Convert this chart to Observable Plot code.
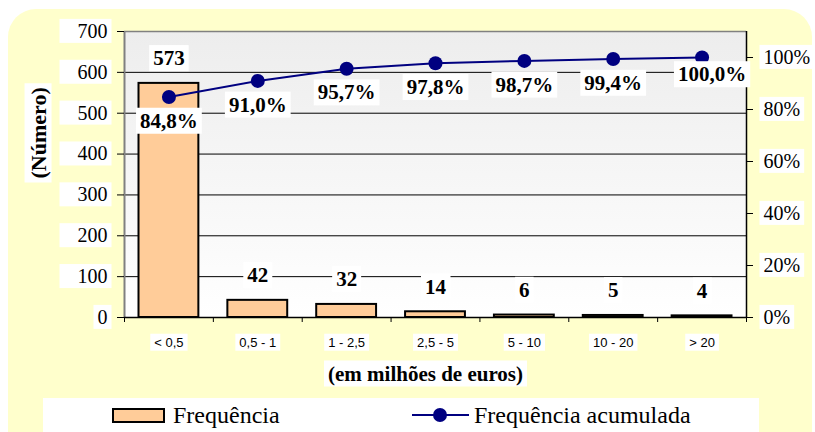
<!DOCTYPE html>
<html>
<head>
<meta charset="utf-8">
<script src="https://cdn.jsdelivr.net/npm/d3@7"></script>
<script src="https://cdn.jsdelivr.net/npm/@observablehq/plot@0.6"></script>
<style>
body { margin: 0; background: #ffffff; }
#wrap { position: relative; width: 815px; height: 432px; overflow: hidden; }
#bg { position: absolute; left: 8px; top: 9px; width: 804px; height: 450px; background: #FFFFCC; border-radius: 28px; }
#chart { position: absolute; left: 0; top: 0; }
#legend { position: absolute; left: 43px; top: 398px; width: 716px; height: 40px; background: #ffffff;
  font-family: "Liberation Serif", serif; font-size: 24px; color: #000; }
#legend .sw { position: absolute; left: 69px; top: 10px; width: 49px; height: 11px; background: #FFCC99; border: 2px solid #000; }
#legend .t1 { position: absolute; left: 130px; top: 3px; line-height: 28px; white-space: nowrap; }
#legend svg { position: absolute; left: 369px; top: 9px; }
#legend .t2 { position: absolute; left: 431px; top: 3px; line-height: 28px; white-space: nowrap; }
</style>
</head>
<body>
<div id="wrap">
  <div id="bg"></div>
  <div id="chart"></div>
  <div id="legend">
    <div class="sw"></div><div class="t1">Frequência</div>
    <svg width="57" height="16"><line x1="0" y1="8" x2="57" y2="8" stroke="#000080" stroke-width="2"/><circle cx="28" cy="8" r="7" fill="#000080"/></svg>
    <div class="t2">Frequência acumulada</div>
  </div>
</div>
<script>
const categories = ["< 0,5", "0,5 - 1", "1 - 2,5", "2,5 - 5", "5 - 10", "10 - 20", "> 20"];
const frequencia = [573, 42, 32, 14, 6, 5, 4];
const acumulada = [84.8, 91.0, 95.7, 97.8, 98.7, 99.4, 100.0];
const pctLabels = ["84,8%", "91,0%", "95,7%", "97,8%", "98,7%", "99,4%", "100,0%"];
const leftTicks = [0, 100, 200, 300, 400, 500, 600, 700];
const rightTicks = [0, 20, 40, 60, 80, 100];
const yMax = 700, pctMax = 110;
const xTitle = "(em milhões de euros)";
const yTitle = "(Número)";

const toY = p => p * yMax / pctMax;
const rows = categories.map((c, i) => ({ i, c, f: frequencia[i], p: acumulada[i], pl: pctLabels[i] }));
const cx = d => d.i + 0.5;

const chart = Plot.plot({
  width: 815, height: 432,
  marginLeft: 124, marginRight: 69, marginTop: 31, marginBottom: 115,
  style: { background: "transparent", fontFamily: "Liberation Serif", overflow: "visible", color: "#000" },
  x: { type: "linear", domain: [0, categories.length] },
  y: { domain: [0, yMax] },
  marks: [
    Plot.frame({ fill: "url(#plotGrad)", stroke: "none" }),
    Plot.ruleY(leftTicks.slice(1, -1), { stroke: "black", strokeWidth: 1 }),
    Plot.rectY(rows, { x1: "i", x2: d => d.i + 1, y: "f", fill: "#FFCC99", stroke: "black", strokeWidth: 2, insetLeft: 14.5, insetRight: 14.5 }),
    Plot.ruleY([yMax], { stroke: "#808080", strokeWidth: 1.5 }),
    Plot.ruleX([0], { stroke: "#808080", strokeWidth: 2 }),
    Plot.ruleX([categories.length], { stroke: "black", strokeWidth: 1.5 }),
    Plot.ruleY([0], { stroke: "black", strokeWidth: 1.5 }),
    Plot.lineY(rows, { x: cx, y: d => toY(d.p), stroke: "#000080", strokeWidth: 2 }),
    Plot.dot(rows, { x: cx, y: d => toY(d.p), r: 7, fill: "#000080" }),
    Plot.axisY({ anchor: "left", ticks: leftTicks, tickSize: 7, tickPadding: 10, fontSize: 20, label: null }),
    Plot.axisY({ anchor: "right", ticks: rightTicks.map(toY), tickFormat: v => Math.round(v * pctMax / yMax) + "%", tickSize: 6, tickPadding: 11, fontSize: 20, label: null }),
    Plot.axisX({ ticks: d3.range(0, categories.length + 1), tickFormat: () => "", tickSize: 5, label: null }),
    Plot.axisX({ ticks: rows.map(cx), tickFormat: v => categories[Math.floor(v)], tickSize: 0, tickPadding: 20, fontSize: 13, fontFamily: "Liberation Sans", label: null }),
    Plot.text(rows, { x: cx, y: "f", text: d => String(d.f), dy: -25, fontSize: 21, fontWeight: "bold" }),
    Plot.text(rows.filter(d => d.i < 6), { x: cx, y: d => toY(d.p), text: "pl", dy: 24, fontSize: 21, fontWeight: "bold" }),
    Plot.text(rows.filter(d => d.i === 6), { x: cx, y: d => toY(d.p), text: "pl", dy: 17, dx: 10, fontSize: 21, fontWeight: "bold" }),
    Plot.text([xTitle], { text: d => d, frameAnchor: "bottom", dy: 63, dx: -10, fontSize: 21, fontWeight: "bold" }),
    Plot.text([yTitle], { text: d => d, frameAnchor: "left", dx: -86, dy: 4, rotate: -90, fontSize: 22, fontWeight: "bold" })
  ]
});

const ns = "http://www.w3.org/2000/svg";
const defs = document.createElementNS(ns, "defs");
defs.innerHTML = '<linearGradient id="plotGrad" x1="0" y1="0" x2="0" y2="1"><stop offset="0" stop-color="#EDEDED"/><stop offset="1" stop-color="#FFFFFF"/></linearGradient>';
chart.insertBefore(defs, chart.firstChild);
document.getElementById("chart").appendChild(chart);

// white label boxes behind every text, as in the reference
chart.querySelectorAll("text").forEach(t => {
  if (!t.textContent.trim()) return;
  const b = t.getBBox();
  const cr = t.getBoundingClientRect();
  let padL = 4, padR = 4, padT = 1, padB = 1;
  if (cr.right < 124 && cr.width > cr.height) padL = 18;
  const r = document.createElementNS(ns, "rect");
  r.setAttribute("x", b.x - padL);
  r.setAttribute("y", b.y - padT);
  r.setAttribute("width", b.width + padL + padR);
  r.setAttribute("height", b.height + padT + padB);
  r.setAttribute("fill", "#ffffff");
  r.setAttribute("stroke", "none");
  const tr = t.getAttribute("transform");
  if (tr) r.setAttribute("transform", tr);
  t.parentNode.insertBefore(r, t);
});
</script>
</body>
</html>
